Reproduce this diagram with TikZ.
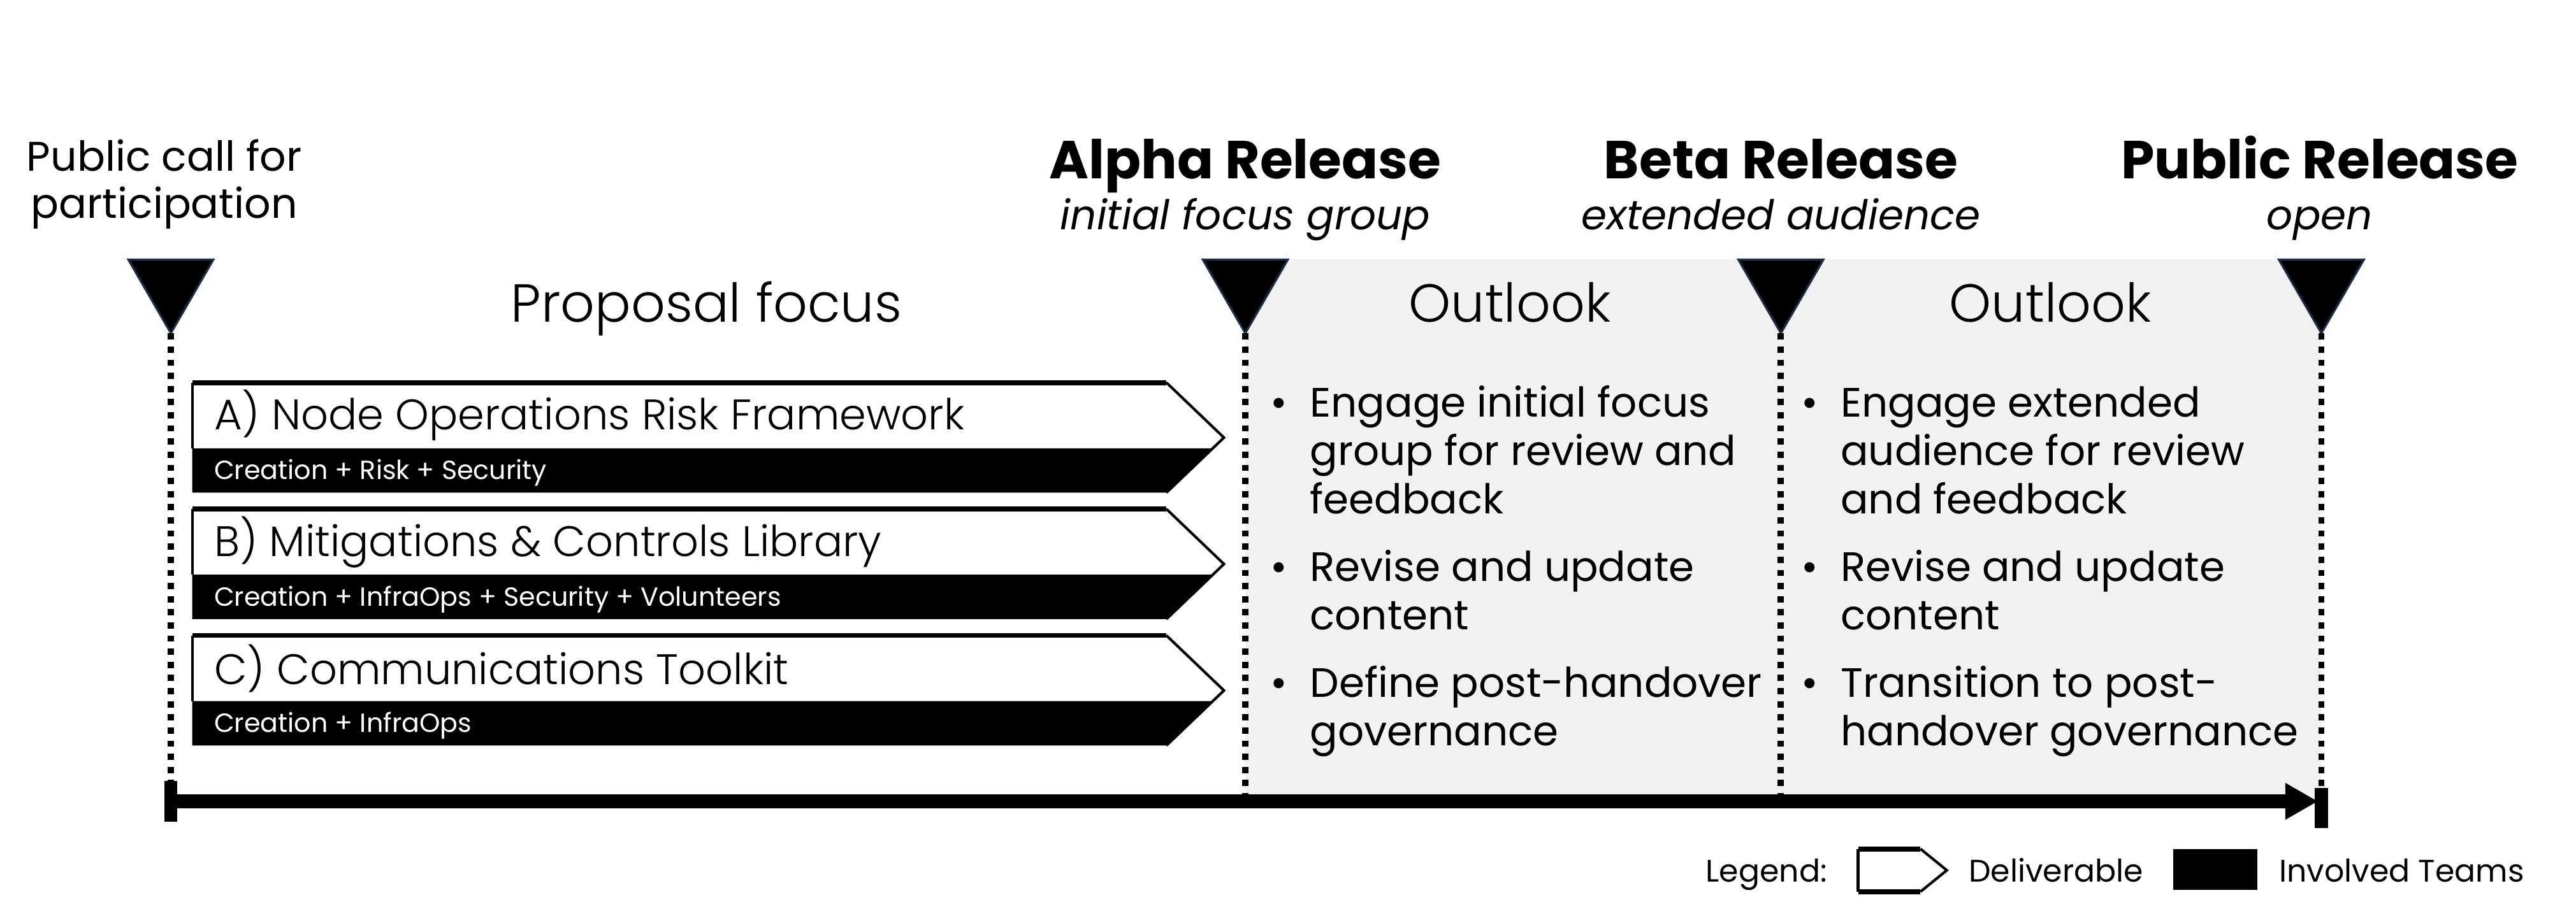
\documentclass[tikz,border=0pt]{standalone}
\usepackage{fontspec}
\setmainfont{Poppins}
\IfFontExistsTF{Poppins Light}{\newfontfamily\lightfont{Poppins Light}}{\newfontfamily\lightfont{Poppins}}
\usetikzlibrary{shapes.geometric,arrows.meta,calc}
\definecolor{panelgrey}{HTML}{F2F2F2}
\definecolor{markeredge}{HTML}{1F2E4B}

% one deliverable chevron: #1 top y, #2 node name, #3 title, #4 teams
\newcommand{\delivbox}[4]{%
  \pgfmathsetmacro\dyt{#1}%
  \pgfmathsetmacro\dyb{#1+67}%
  \pgfmathsetmacro\dym{#1+33.5}%
  \pgfmathsetmacro\dyband{#1+40}%
  \pgfmathsetmacro\dxband{745-35*6.5/33.5}%
  \fill[black] (117,\dyband) -- (\dxband,\dyband) -- (710,\dyb) -- (117,\dyb) -- cycle;
  \draw[delivline] (117,\dyband) -- (117,\dyt);
  \draw[delivtop] (117,\dyt) -- (710,\dyt);
  \draw[delivline] (710,\dyt) -- (745,\dym) -- (710,\dyb);
  \node[delivtitle] (#2title) at (130,\dyt+20) {#3};
  \node[delivteams] (#2teams) at (130,\dyb-12) {#4};
}

\begin{document}
\begin{tikzpicture}[x=0.5pt,y=-0.5pt,
  marker/.style={regular polygon, regular polygon sides=3, shape border rotate=180,
    minimum size=30pt, inner sep=0pt, outer sep=0pt, fill=black, draw=markeredge, line width=0.6pt},
  guide/.style={line width=1.9pt, dash pattern=on 1.9pt off 2.1pt},
  axisline/.style={line width=4.2pt},
  tickbar/.style={fill=black, minimum width=4pt, minimum height=12.3pt, inner sep=0pt, outer sep=0pt},
  headline/.style={font=\fontsize{16.3pt}{19pt}\selectfont\bfseries, anchor=base, inner sep=0pt},
  subline/.style={font=\fontsize{12.5pt}{15pt}\selectfont\itshape, anchor=base, inner sep=0pt},
  plainhead/.style={font=\fontsize{12.6pt}{15pt}\selectfont, anchor=base, inner sep=0pt, align=center},
  phasetitle/.style={font=\lightfont\fontsize{16.3pt}{19pt}\selectfont, anchor=base, inner sep=0pt},
  delivline/.style={line width=0.8pt},
  delivtop/.style={line width=1.5pt},
  delivtitle/.style={font=\lightfont\fontsize{13pt}{15pt}\selectfont, anchor=west, inner sep=0pt},
  delivteams/.style={font=\fontsize{8pt}{10pt}\selectfont, text=white, anchor=west, inner sep=0pt},
  bullets/.style={font=\fontsize{12.5pt}{14.75pt}\selectfont, anchor=base west, inner sep=0pt},
  legendtext/.style={font=\fontsize{9.5pt}{11pt}\selectfont, anchor=base west, inner sep=0pt}
]
\useasboundingbox (0,0) rectangle (1568,562);

% shaded outlook panel
\fill[panelgrey] (758,158) rectangle (1413,488);

% time axis points
\coordinate (t0) at (104,488);
\coordinate (t1) at (758,488);
\coordinate (t2) at (1084,488);
\coordinate (t3) at (1413,488);

% milestone markers
\node[marker] (m0) at (104,173) {};
\node[marker] (m1) at (758,173) {};
\node[marker] (m2) at (1084,173) {};
\node[marker] (m3) at (1413,173) {};

% dotted guides from markers to the axis
\draw[guide] (m0.corner 1) -- (t0);
\draw[guide] (m1.corner 1) -- (t1);
\draw[guide] (m2.corner 1) -- (t2);
\draw[guide] (m3.corner 1) -- (t3);

% axis
\draw[axisline,-{Triangle[length=10pt,width=10.5pt]}] (t0) -- ($(t3)+(-2,0)$);
\node[tickbar] (bar0) at (t0) {};
\node[tickbar] (bar3) at ($(t3)+(0,4)$) {};

% milestone labels
\node[plainhead] (call) at (100,104) {Public call for};
\node[plainhead] (call2) at (100,133) {participation};
\node[headline] (alpha) at (758,109) {Alpha Release};
\node[subline] (alphasub) at (758,140) {initial focus group};
\node[headline] (beta) at (1084,109) {Beta Release};
\node[subline] (betasub) at (1084,140) {extended audience};
\node[headline] (public) at (1412,109) {Public Release};
\node[subline] (publicsub) at (1412,140) {open};

% phase titles
\node[phasetitle] (proposal) at (430,196) {Proposal focus};
\node[phasetitle] (outlook1) at (919,196) {Outlook};
\node[phasetitle] (outlook2) at (1248,196) {Outlook};

% deliverables
\delivbox{233}{a}{A) Node Operations Risk Framework}{Creation + Risk + Security}
\delivbox{310}{b}{B) Mitigations \& Controls Library}{Creation + InfraOps + Security + Volunteers}
\delivbox{387}{c}{C) Communications Toolkit}{Creation + InfraOps}

% outlook bullet lists
\node[bullets] (list1) at (773,254) {\renewcommand\arraystretch{1}%
  \begin{tabular}[t]{@{}l@{}l@{}}
  \makebox[12pt][l]{\textbullet} & Engage initial focus\\
   & group for review and\\
   & feedback\\[5.75pt]
  \textbullet & Revise and update\\
   & content\\[5.75pt]
  \textbullet & Define post-handover\\
   & governance
  \end{tabular}};
\node[bullets] (list2) at (1096,254) {\renewcommand\arraystretch{1}%
  \begin{tabular}[t]{@{}l@{}l@{}}
  \makebox[12pt][l]{\textbullet} & Engage extended\\
   & audience for review\\
   & and feedback\\[5.75pt]
  \textbullet & Revise and update\\
   & content\\[5.75pt]
  \textbullet & Transition to post-\\
   & handover governance
  \end{tabular}};

% legend
\node[legendtext] (legend) at (1038,537) {Legend:};
\draw[line width=0.8pt] (1131,530) -- (1131,517);
\draw[line width=1.5pt] (1131,517) -- (1169,517);
\draw[line width=0.8pt] (1169,517) -- (1185,530) -- (1169,543);
\draw[line width=1.5pt] (1169,543) -- (1131,543);
\draw[line width=0.8pt] (1131,543) -- (1131,530);
\node[legendtext] (legdeliv) at (1198,537) {Deliverable};
\node[fill=black, minimum width=25.5pt, minimum height=12.5pt, inner sep=0pt] (legteam) at (1348.5,529.5) {};
\node[legendtext] (legteamtext) at (1387,537) {Involved Teams};
\end{tikzpicture}
\end{document}
